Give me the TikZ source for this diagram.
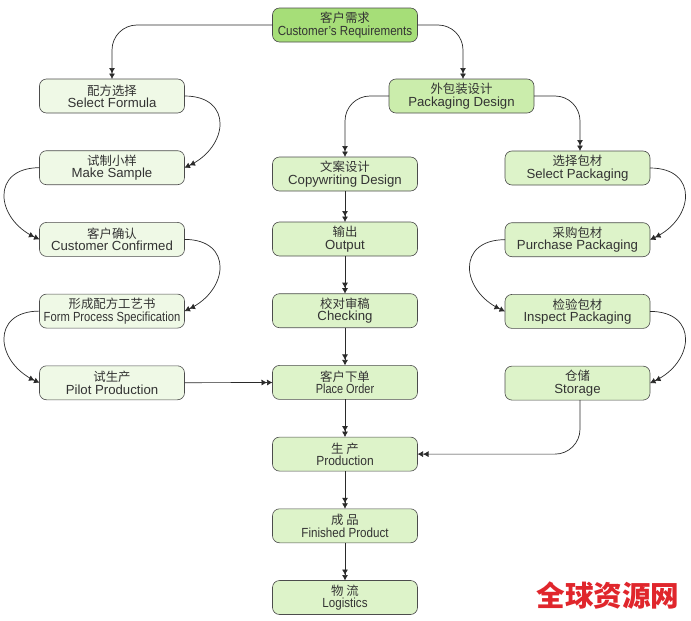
\documentclass[tikz,border=0pt]{standalone}
\usepackage{fontspec}
\setmainfont{Liberation Sans}
\newfontfamily\cjk{Noto Sans CJK SC}
\usetikzlibrary{chains}
\usetikzlibrary{positioning}
\usetikzlibrary{arrows.meta}
\definecolor{TopGreen}{HTML}{A6DE78}
\definecolor{MidGreen}{HTML}{CBEDAC}
\definecolor{BoxGreen}{HTML}{DDF3C9}
\definecolor{PaleGreen}{HTML}{EFF9E6}
\definecolor{LineGray}{HTML}{2A2A2A}
\definecolor{MarkRed}{HTML}{E0262C}
\def\BoxLabel#1#2{{\cjk\fontsize{12.4}{13}\selectfont #1}\\[0.3pt]{\fontsize{13.2}{13}\selectfont #2}}
\def\Squeeze#1{\addfontfeatures{FakeStretch=#1}}
\begin{document}
\begin{tikzpicture}
[x=1pt,y=1pt,
flownode/.style={inner sep=0pt,outer sep=0pt,minimum height=34pt,minimum width=145pt,rectangle,
rounded corners=7pt,draw=black!70,line width=0.6pt,align=center,text=black!80},
leftnode/.style={flownode,fill=PaleGreen},
midnode/.style={flownode,fill=BoxGreen},
link/.style={draw=LineGray,line width=0.7pt,
-{Latex[length=5.5pt,width=6pt]Latex[length=5.5pt,width=6pt]}},
bendlink/.style={link,rounded corners=25pt},
curvelink/.style={link,looseness=1.75}
]
\useasboundingbox (0,0) rectangle (691,-621);
\node [flownode,fill=TopGreen] (Requirements) at (345,-25)
{\BoxLabel{客户需求}{\Squeeze{0.88}Customer's Requirements}};
\node [flownode,fill=MidGreen] (Packaging) at (461.5,-96) {\BoxLabel{外包装设计}{Packaging Design}};
\begin{scope}[start chain=1 going below,node distance=37.7pt]
\node [leftnode,on chain=1] (Formula) at (112,-96) {\BoxLabel{配方选择}{Select Formula}};
\node [leftnode,on chain=1] (Sample) {\BoxLabel{试制小样}{Make Sample}};
\node [leftnode,on chain=1] (Confirmed) {\BoxLabel{客户确认}{Customer Confirmed}};
\node [leftnode,on chain=1] (Specification) {\BoxLabel{形成配方工艺书}{\Squeeze{0.85}Form Process Specification}};
\node [leftnode,on chain=1] (Pilot) {\BoxLabel{试生产}{Pilot Production}};
\end{scope}
\begin{scope}[start chain=2 going below,node distance=37.7pt]
\node [midnode,on chain=2] (Output) at (345,-239) {\BoxLabel{输出}{Output}};
\node [midnode,on chain=2] (Checking) {\BoxLabel{校对审稿}{Checking}};
\node [midnode,on chain=2] (Order) {\BoxLabel{客户下单}{\Squeeze{0.83}Place Order}};
\node [midnode,on chain=2] (Production) {\BoxLabel{生\ 产}{\Squeeze{0.91}Production}};
\node [midnode,on chain=2] (Finished) {\BoxLabel{成\ 品}{\Squeeze{0.88}Finished Product}};
\node [midnode,on chain=2] (Logistics) {\BoxLabel{物\ 流}{\Squeeze{0.88}Logistics}};
\end{scope}
\node [midnode,above=31pt of Output] (Copywriting) {\BoxLabel{文案设计}{Copywriting Design}};
\begin{scope}[start chain=3 going below,node distance=37.7pt]
\node [midnode,on chain=3] (Select) at (577.5,-168) {\BoxLabel{选择包材}{Select Packaging}};
\node [midnode,on chain=3] (Purchase) {\BoxLabel{采购包材}{Purchase Packaging}};
\node [midnode,on chain=3] (Inspect) {\BoxLabel{检验包材}{Inspect Packaging}};
\node [midnode,on chain=3] (Storage) {\BoxLabel{仓储}{Storage}};
\end{scope}
\node [text=MarkRed,font=\cjk\bfseries\fontsize{28.6}{30}\selectfont] (Mark) at (608,-596) {全球资源网};
\draw [bendlink] (Requirements.west) -| (Formula.north);
\draw [bendlink] (Requirements.east) -| ([xshift=1.5pt]Packaging.north);
\draw [bendlink] (Packaging.west) -| (Copywriting.north);
\draw [bendlink] (Packaging.east) -| ([xshift=2.5pt]Select.north);
\draw [bendlink] ([xshift=2.5pt]Storage.south) |- (Production.east);
\draw [curvelink] (Formula.east) to [out=0,in=25] (Sample.east);
\draw [curvelink] (Sample.west) to [out=180,in=155] (Confirmed.west);
\draw [curvelink] (Confirmed.east) to [out=0,in=25] (Specification.east);
\draw [curvelink] (Specification.west) to [out=180,in=155] (Pilot.west);
\draw [curvelink] (Select.east) to [out=0,in=25] (Purchase.east);
\draw [curvelink] (Purchase.west) to [out=180,in=155] (Inspect.west);
\draw [curvelink] (Inspect.east) to [out=0,in=25] (Storage.east);
\draw [link] (Pilot) -- (Order);
\draw [link] (Copywriting) -- (Output);
\draw [link] (Output) -- (Checking);
\draw [link] (Checking) -- (Order);
\draw [link] (Order) -- (Production);
\draw [link] (Production) -- (Finished);
\draw [link] (Finished) -- (Logistics);
\end{tikzpicture}
\end{document}
